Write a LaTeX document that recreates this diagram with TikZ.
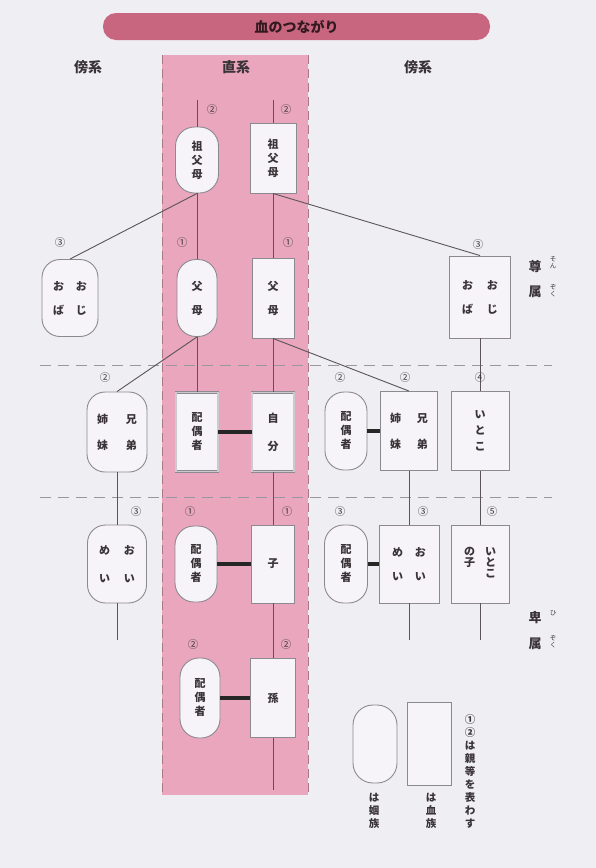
\documentclass[tikz,border=0pt]{standalone}
\usepackage{fontspec}
\newfontfamily\jp{Noto Sans CJK JP}
\definecolor{bg}{HTML}{EFEEF2}
\definecolor{band}{HTML}{E9A6BC}
\definecolor{bandline}{HTML}{A87888}
\definecolor{banner}{HTML}{C9667F}
\definecolor{boxfill}{HTML}{F6F4F8}
\definecolor{boxline}{HTML}{8C8A90}
\definecolor{conn}{HTML}{5A5458}
\definecolor{txt}{HTML}{3A3438}
\definecolor{dashc}{HTML}{9A96A0}
\tikzset{
  every node/.style={font=\jp\bfseries\fontsize{11}{14}\selectfont, text=txt},
  inlaw/.style={draw=boxline, fill=boxfill, line width=0.9pt, rounded corners=19pt, inner sep=0pt, align=center},
  blood/.style={draw=boxline, fill=boxfill, line width=0.9pt, inner sep=0pt, align=center},
  zero/.style={draw=boxline, fill=boxfill, line width=0.7pt, double=boxfill!60!boxline, double distance=1.2pt, inner sep=0pt, align=center},
  conline/.style={draw=conn, line width=0.9pt},
  tie/.style={draw=black!85, line width=4.5pt},
  num/.style={font=\jp\fontsize{10.5}{11}\selectfont, inner sep=0pt},
  head/.style={font=\jp\bfseries\fontsize{14}{16}\selectfont, inner sep=0pt},
  side/.style={font=\jp\bfseries\fontsize{13}{14}\selectfont, inner sep=0pt},
  ruby/.style={font=\jp\fontsize{6.5}{7}\selectfont, inner sep=0pt, align=center},
  hdash/.style={draw=dashc, line width=0.8pt, dash pattern=on 11pt off 7pt},
  legtext/.style={font=\jp\bfseries\fontsize{10.5}{13}\selectfont, inner sep=0pt, align=center}
}
\begin{document}
\begin{tikzpicture}[x=1pt,y=-1pt]
\useasboundingbox (0,0) rectangle (596,868);
\fill[bg] (0,0) rectangle (596,868);
% pink band
\fill[band] (162,55) rectangle (308,795);
\draw[bandline, line width=0.8pt, dash pattern=on 9pt off 5pt] (162,55) -- (162,795);
\draw[bandline, line width=0.8pt, dash pattern=on 9pt off 5pt] (308,55) -- (308,795);
% banner
\node[fill=banner, rounded corners=13pt, minimum width=387pt, minimum height=27pt, inner sep=0pt,
      font=\jp\bfseries\fontsize{14}{16}\selectfont, text=black!75!banner] (title) at (296.5,26.5) {血のつながり};
% headings
\node[head] (h1) at (88,67) {傍系};
\node[head] (h2) at (236,67) {直系};
\node[head] (h3) at (418,67) {傍系};
% horizontal dashed separators
\draw[hdash] (40,365) -- (552,365);
\draw[hdash] (40,497) -- (552,497);
% nodes
\node[inlaw, minimum width=43pt, minimum height=66pt] (gpA) at (197,160) {祖\\父\\母};
\node[blood, minimum width=46pt, minimum height=70pt] (gpB) at (273,158) {祖\\父\\母};
\node[inlaw, minimum width=56pt, minimum height=77pt, rounded corners=18pt] (ojiL) at (70,298) {お\hspace{12pt}お\\[10pt]ば\hspace{12pt}じ};
\node[inlaw, minimum width=40pt, minimum height=77pt] (fmA) at (197,298) {父\\[10pt]母};
\node[blood, minimum width=42pt, minimum height=80pt] (fmB) at (273,298) {父\\[10pt]母};
\node[blood, minimum width=61pt, minimum height=82pt] (ojiR) at (480,297) {お\hspace{14pt}お\\[10pt]ば\hspace{14pt}じ};
\node[inlaw, minimum width=60pt, minimum height=80pt, rounded corners=18pt] (kyL) at (117,432) {姉\hspace{18pt}兄\\[12pt]妹\hspace{18pt}弟};
\node[zero, minimum width=42pt, minimum height=79pt] (spSelf) at (197,432) {配\\偶\\者};
\node[zero, minimum width=42pt, minimum height=79pt] (self) at (273,432) {自\\[14pt]分};
\node[inlaw, minimum width=42pt, minimum height=78pt] (spR) at (346,431) {配\\偶\\者};
\node[blood, minimum width=57pt, minimum height=79pt] (kyR) at (409,431) {姉\hspace{16pt}兄\\[12pt]妹\hspace{16pt}弟};
\node[blood, minimum width=58pt, minimum height=79pt] (itoko) at (480,431) {い\\[2pt]と\\[2pt]こ};
\node[inlaw, minimum width=59pt, minimum height=78pt, rounded corners=18pt] (oiL) at (117,564) {め\hspace{14pt}お\\[14pt]い\hspace{14pt}い};
\node[inlaw, minimum width=42pt, minimum height=76pt] (sp1) at (196,564) {配\\偶\\者};
\node[blood, minimum width=43pt, minimum height=78pt] (ko) at (273,564) {子};
\node[inlaw, minimum width=43pt, minimum height=78pt] (sp3) at (346,564) {配\\偶\\者};
\node[blood, minimum width=60pt, minimum height=78pt] (oiR) at (409,564) {め\hspace{12pt}お\\[10pt]い\hspace{12pt}い};
\node[blood, minimum width=58pt, minimum height=78pt] (itokoko) at (480,564)
  {\begin{tabular}{@{}c@{\hspace{10pt}}c@{}}の&い\\[-3pt]子&と\\[-3pt]&こ\end{tabular}};
\node[inlaw, minimum width=40pt, minimum height=80pt] (sp2) at (200,698) {配\\偶\\者};
\node[blood, minimum width=45pt, minimum height=79pt] (mago) at (273,698) {孫};
% free ends
\coordinate (tA) at (197,100);
\coordinate (tB) at (273,100);
\coordinate (eOiL) at (117,640);
\coordinate (eOiR) at (409,640);
\coordinate (eItk) at (480,640);
\coordinate (eMago) at (273,790);
% connectors
\draw[conline] (tA) -- (gpA.north);
\draw[conline] (tB) -- (gpB.north);
\draw[conline] (gpA.south) -- (fmA.north);
\draw[conline] (gpA.south) -- (ojiL.north);
\draw[conline] (gpB.south) -- (fmB.north);
\draw[conline] (gpB.south) -- (ojiR.north);
\draw[conline] (fmA.south) -- (kyL.north);
\draw[conline] (fmA.south) -- (spSelf.north);
\draw[conline] (fmB.south) -- (self.north);
\draw[conline] (fmB.south) -- (kyR.north);
\draw[conline] (ojiR.south) -- (itoko.north);
\draw[conline] (self.south) -- (ko.north);
\draw[conline] (ko.south) -- (mago.north);
\draw[conline] (mago.south) -- (eMago);
\draw[conline] (kyL.south) -- (oiL.north);
\draw[conline] (oiL.south) -- (eOiL);
\draw[conline] (kyR.south) -- (oiR.north);
\draw[conline] (oiR.south) -- (eOiR);
\draw[conline] (itoko.south) -- (itokoko.north);
\draw[conline] (itokoko.south) -- (eItk);
% marriage ties
\draw[tie] (spSelf.east) -- (self.west);
\draw[tie] (spR.east) -- (kyR.west);
\draw[tie] (sp1.east) -- (ko.west);
\draw[tie] (sp3.east) -- (oiR.west);
\draw[tie] (sp2.east) -- (mago.west);
% degree numbers
\node[num] (n1) at (212,110) {②};
\node[num] (n2) at (286,110) {②};
\node[num] (n3) at (60,243) {③};
\node[num] (n4) at (182,243) {①};
\node[num] (n5) at (288,243) {①};
\node[num] (n6) at (478,245) {③};
\node[num] (n7) at (105,378) {②};
\node[num] (n8) at (340,378) {②};
\node[num] (n9) at (405,378) {②};
\node[num] (n10) at (480,378) {④};
\node[num] (n11) at (136,512) {③};
\node[num] (n12) at (190,512) {①};
\node[num] (n13) at (287,512) {①};
\node[num] (n14) at (340,512) {③};
\node[num] (n15) at (423,512) {③};
\node[num] (n16) at (492,512) {⑤};
\node[num] (n17) at (193,645) {②};
\node[num] (n18) at (286,645) {②};
% side labels
\node[side] (s1) at (535,266) {尊};
\node[side] (s2) at (535,292) {属};
\node[ruby] (r1) at (553,263) {そ\\ん};
\node[ruby] (r2) at (553,291) {ぞ\\く};
\node[side] (s3) at (535,618) {卑};
\node[side] (s4) at (535,644) {属};
\node[ruby] (r3) at (553,613) {ひ};
\node[ruby] (r4) at (553,642) {ぞ\\く};
% legend
\node[inlaw, minimum width=44pt, minimum height=78pt, rounded corners=20pt] (legA) at (375,744) {};
\node[blood, minimum width=44pt, minimum height=83pt] (legB) at (429,744) {};
\node[legtext] (lt1) at (374,811) {は\\姻\\族};
\node[legtext] (lt2) at (431,811) {は\\血\\族};
\node[legtext] (lt3) at (470,771) {①\\②\\は\\親\\等\\を\\表\\わ\\す};
\end{tikzpicture}
\end{document}
